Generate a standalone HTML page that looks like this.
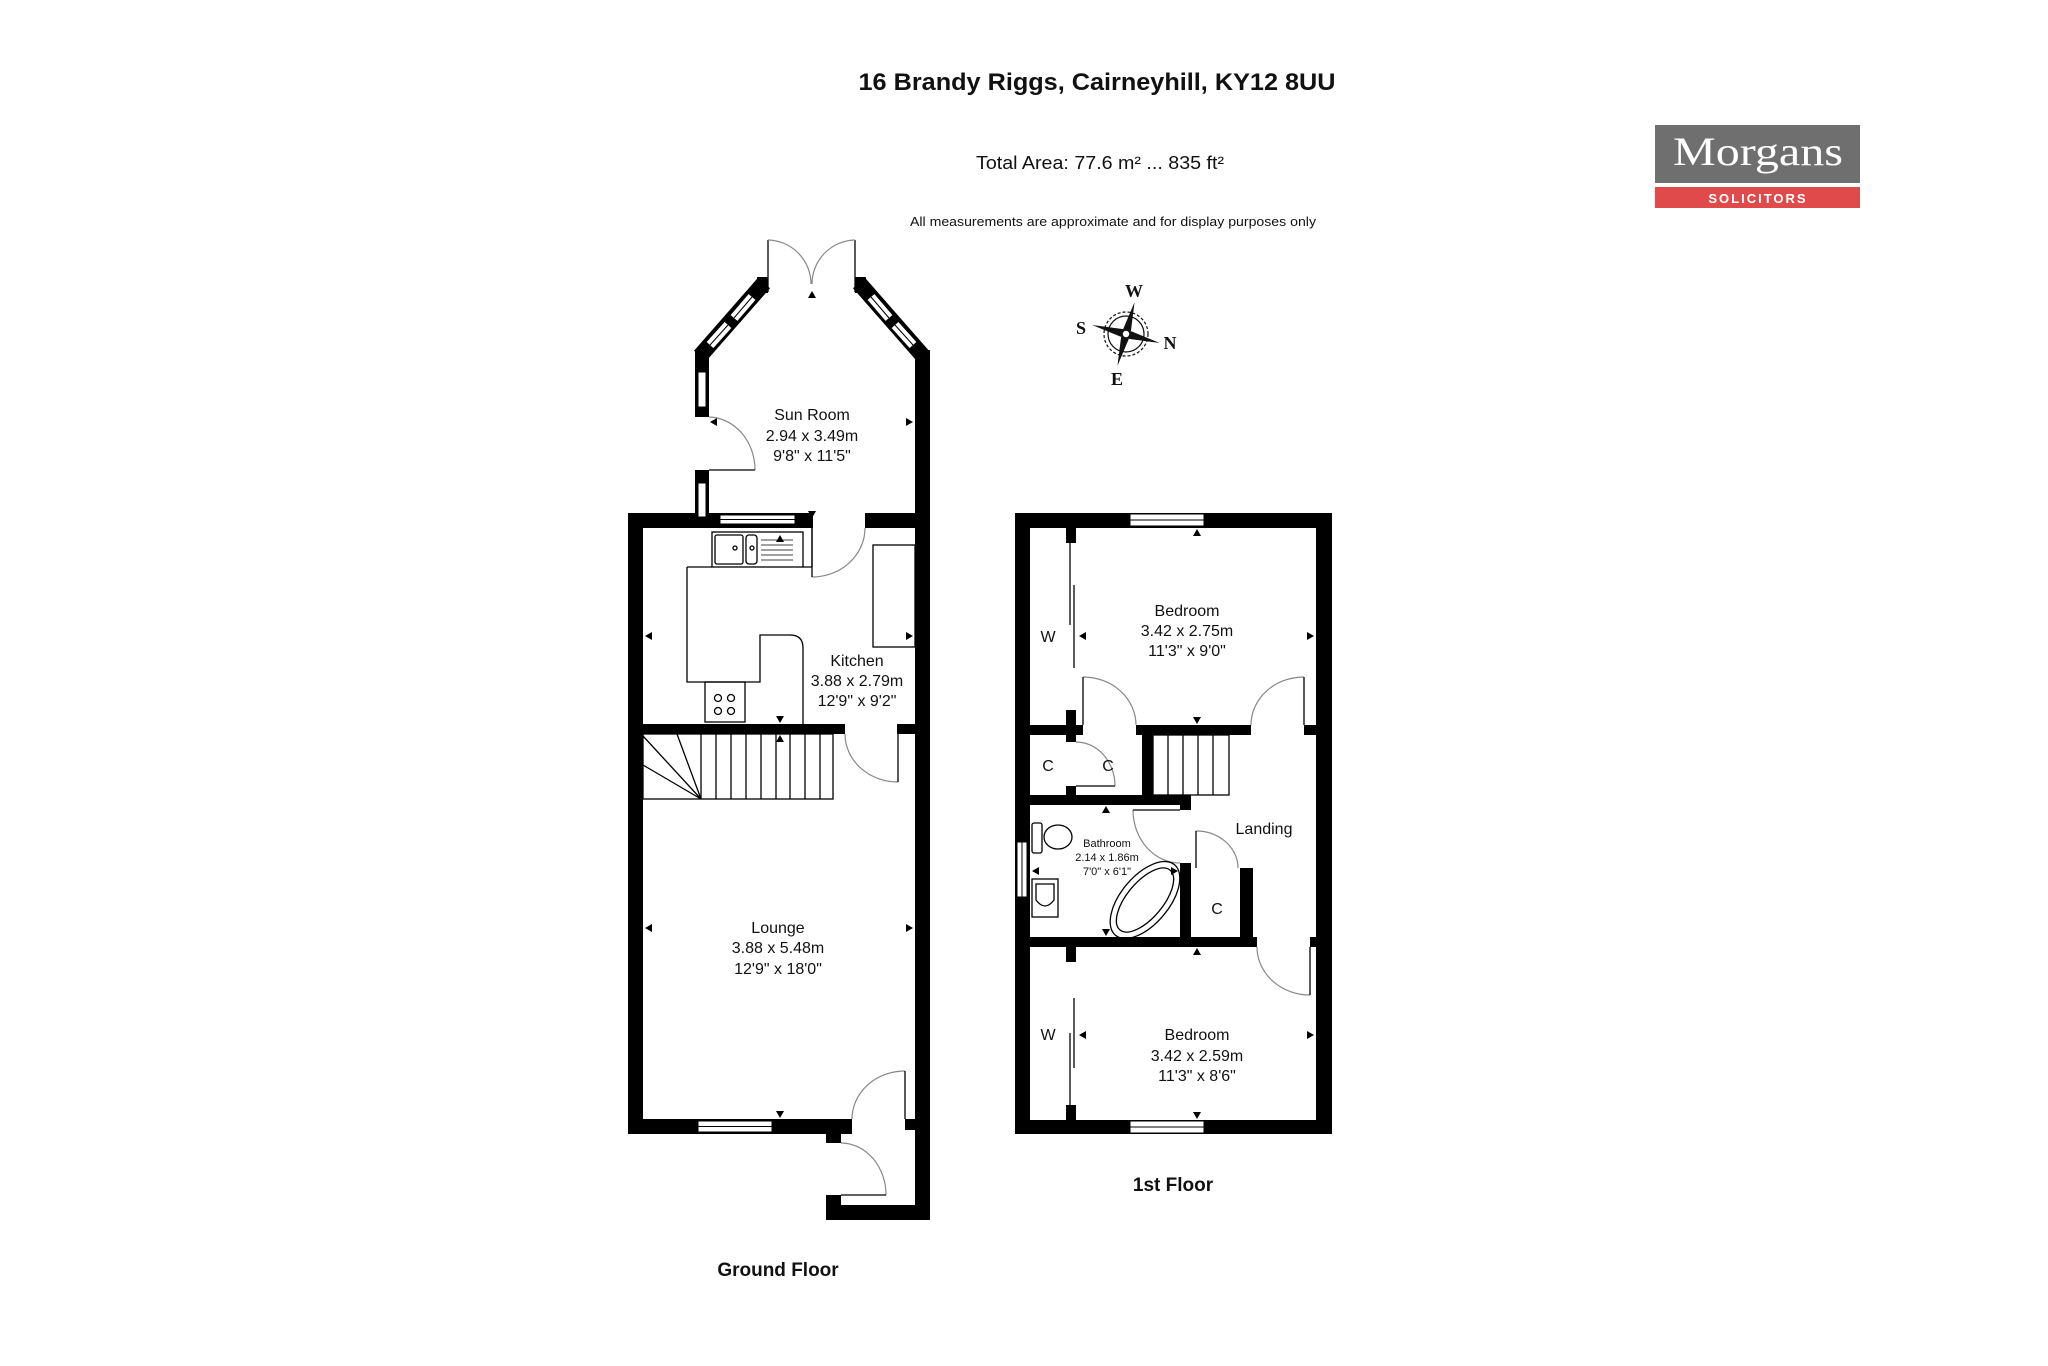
<!DOCTYPE html>
<html><head><meta charset="utf-8"><style>
html,body{margin:0;padding:0;background:#fff;}
svg{display:block;}
text{font-family:"Liberation Sans",Arial,sans-serif;fill:#111;}
</style></head><body>
<svg width="2048" height="1366" viewBox="0 0 2048 1366" xmlns="http://www.w3.org/2000/svg">
<rect width="2048" height="1366" fill="#fff"/>
<!-- Header -->
<text x="1097" y="90" font-size="24" font-weight="bold" text-anchor="middle" textLength="477" lengthAdjust="spacingAndGlyphs">16 Brandy Riggs, Cairneyhill, KY12 8UU</text>
<text x="1100" y="169" font-size="18" text-anchor="middle" textLength="248" lengthAdjust="spacingAndGlyphs">Total Area: 77.6 m² ... 835 ft²</text>
<text x="1113" y="226" font-size="13" text-anchor="middle" textLength="406" lengthAdjust="spacingAndGlyphs">All measurements are approximate and for display purposes only</text>
<!-- Logo -->
<rect x="1655" y="125" width="205" height="58" fill="#6f6f70"/>
<rect x="1655" y="187" width="205" height="21" fill="#e04a4b"/>
<text x="1758" y="165" font-size="40" text-anchor="middle" style="font-family:'Liberation Serif',serif;fill:#fff" textLength="170" lengthAdjust="spacingAndGlyphs">Morgans</text>
<text x="1758" y="203" font-size="13" font-weight="bold" text-anchor="middle" style="fill:#fff" letter-spacing="2">SOLICITORS</text>
<!-- Compass -->
<g transform="translate(1126,334)">
<circle r="22" fill="none" stroke="#111" stroke-width="1.2" stroke-dasharray="3,2"/>
<circle r="18" fill="none" stroke="#111" stroke-width="1.2"/>
<g transform="rotate(15)" fill="#111">
<polygon points="0,-33 4,-4 0,0 -4,-4"/><polygon points="0,33 4,4 0,0 -4,4"/>
<polygon points="-35,0 -4,-4 0,0 -4,4"/><polygon points="35,0 4,-4 0,0 4,4"/>
</g>
<circle r="4" fill="#fff" stroke="#111" stroke-width="1.5"/>
</g>
<g font-weight="bold" font-size="18" text-anchor="middle">
<text x="1134" y="297" style="font-family:'Liberation Serif',serif">W</text>
<text x="1081" y="334" style="font-family:'Liberation Serif',serif">S</text>
<text x="1170" y="349" style="font-family:'Liberation Serif',serif">N</text>
<text x="1117" y="385" style="font-family:'Liberation Serif',serif">E</text>
</g>

<!-- ================= GROUND FLOOR ================= -->
<g fill="#000">
<line x1="764" y1="283" x2="700" y2="356" stroke="#000" stroke-width="16"/>
<line x1="859" y1="283" x2="923" y2="356" stroke="#000" stroke-width="16"/>
<rect x="757" y="277" width="11" height="16"/>
<rect x="855" y="277" width="11" height="16"/>
<rect x="695" y="350" width="14" height="67"/>
<rect x="695" y="470" width="14" height="58"/>
<rect x="915" y="350" width="15" height="870"/>
<rect x="628" y="513" width="185" height="15"/>
<rect x="865" y="513" width="50" height="15"/>
<rect x="628" y="513" width="15" height="621"/>
<rect x="643" y="724" width="202" height="10"/>
<rect x="897" y="724" width="18" height="10"/>
<rect x="628" y="1119" width="224" height="15"/>
<rect x="905" y="1119" width="10" height="11"/>
<rect x="826" y="1134" width="15" height="9"/>
<rect x="826" y="1195" width="15" height="25"/>
<rect x="826" y="1205" width="104" height="15"/>
</g>
<g stroke-linecap="butt">
<line x1="752" y1="297" x2="734" y2="318" stroke="#fff" stroke-width="9"/>
<line x1="728" y1="325" x2="710" y2="345" stroke="#fff" stroke-width="9"/>
<line x1="752" y1="297" x2="734" y2="318" stroke="#000" stroke-width="1"/>
<line x1="728" y1="325" x2="710" y2="345" stroke="#000" stroke-width="1"/>
<line x1="871" y1="297" x2="889" y2="318" stroke="#fff" stroke-width="9"/>
<line x1="895" y1="325" x2="913" y2="345" stroke="#fff" stroke-width="9"/>
<line x1="871" y1="297" x2="889" y2="318" stroke="#000" stroke-width="1"/>
<line x1="895" y1="325" x2="913" y2="345" stroke="#000" stroke-width="1"/>
</g>
<rect x="698" y="372" width="8" height="35" fill="#fff" stroke="#000" stroke-width="1"/>
<rect x="698" y="483" width="8" height="34" fill="#fff" stroke="#000" stroke-width="1"/>
<rect x="720" y="515" width="75" height="9" fill="#fff" stroke="#000" stroke-width="1"/>
<line x1="720" y1="519.5" x2="795" y2="519.5" stroke="#000" stroke-width="1"/>
<rect x="698" y="1121" width="74" height="11" fill="#fff" stroke="#000" stroke-width="1"/>
<line x1="698" y1="1126.5" x2="772" y2="1126.5" stroke="#000" stroke-width="1"/>

<g fill="none" stroke="#000" stroke-width="1.3">
<line x1="768" y1="240" x2="768" y2="292"/><line x1="855" y1="240" x2="855" y2="292"/>
</g>
<g fill="none" stroke="#888" stroke-width="1.2">
<path d="M768,240 A44,44 0 0 1 811,284"/>
<path d="M855,240 A44,44 0 0 0 812,284"/>
<path d="M709,417 A47,53 0 0 1 755,470"/>
<path d="M865,528 A53,49 0 0 1 812,577"/>
<path d="M845,734 A53,48 0 0 0 898,782"/>
<path d="M905,1071 A53,48 0 0 0 852,1119"/>
<path d="M841,1143 A45,52 0 0 1 886,1195"/>
</g>
<g fill="none" stroke="#000" stroke-width="1.3">
<line x1="709" y1="470" x2="755" y2="470"/>
<line x1="812" y1="528" x2="812" y2="577"/>
<line x1="898" y1="734" x2="898" y2="782"/>
<line x1="905" y1="1071" x2="905" y2="1119"/>
<line x1="841" y1="1195" x2="886" y2="1195"/>
<rect x="712" y="532" width="91" height="35"/>
<rect x="715" y="535" width="28" height="29" rx="2"/>
<rect x="746" y="535" width="11" height="29" rx="3"/>
<circle cx="735" cy="548" r="2"/><circle cx="752" cy="548" r="2"/>
<line x1="761" y1="540" x2="793" y2="540" stroke-width="0.8"/>
<line x1="761" y1="545" x2="793" y2="545" stroke-width="0.8"/>
<line x1="761" y1="550" x2="793" y2="550" stroke-width="0.8"/>
<line x1="761" y1="555" x2="793" y2="555" stroke-width="0.8"/>
<line x1="761" y1="560" x2="793" y2="560" stroke-width="0.8"/>
<path d="M687,567 L712,567 M803,567 L812,567 M812,528 L812,567 M687,567 L687,682 L760,682 L760,635 L790,635 Q803,635 803,648 L803,724"/>
<rect x="705" y="682" width="40" height="40"/>
<circle cx="718" cy="698" r="3.5"/><circle cx="731" cy="698" r="3.5"/>
<circle cx="718" cy="711" r="3.5"/><circle cx="731" cy="711" r="3.5"/>
<rect x="873" y="545" width="42" height="102"/>
<rect x="643" y="734" width="190" height="65"/>
<line x1="701" y1="799" x2="643" y2="736"/>
<line x1="701" y1="799" x2="677" y2="734"/>
<line x1="701" y1="799" x2="643" y2="765"/>
<line x1="701" y1="734" x2="701" y2="799"/>
<line x1="716" y1="734" x2="716" y2="799"/>
<line x1="731" y1="734" x2="731" y2="799"/>
<line x1="746" y1="734" x2="746" y2="799"/>
<line x1="761" y1="734" x2="761" y2="799"/>
<line x1="776" y1="734" x2="776" y2="799"/>
<line x1="790" y1="734" x2="790" y2="799"/>
<line x1="805" y1="734" x2="805" y2="799"/>
<line x1="820" y1="734" x2="820" y2="799"/>
</g>
<g fill="#000">
<polygon points="812,291 808,298 816,298"/>
<polygon points="812,518 808,511 816,511"/>
<polygon points="710,422 717,418 717,426"/>
<polygon points="913,422 906,418 906,426"/>
<polygon points="780,535 776,542 784,542"/>
<polygon points="645,636 652,632 652,640"/>
<polygon points="913,636 906,632 906,640"/>
<polygon points="780,723 776,716 784,716"/>
<polygon points="780,735 776,742 784,742"/>
<polygon points="645,928 652,924 652,932"/>
<polygon points="913,928 906,924 906,932"/>
<polygon points="780,1118 776,1111 784,1111"/>
</g>
<g font-size="16" text-anchor="middle">
<text x="812" y="420">Sun Room</text><text x="812" y="441">2.94 x 3.49m</text><text x="812" y="461">9'8" x 11'5"</text>
<text x="857" y="666">Kitchen</text><text x="857" y="686">3.88 x 2.79m</text><text x="857" y="706">12'9" x 9'2"</text>
<text x="778" y="933">Lounge</text><text x="778" y="953">3.88 x 5.48m</text><text x="778" y="974">12'9" x 18'0"</text>
</g>
<text x="778" y="1276" font-size="19" font-weight="bold" text-anchor="middle">Ground Floor</text>

<!-- ================= FIRST FLOOR ================= -->
<g fill="#000">
<rect x="1015" y="513" width="317" height="15"/>
<rect x="1015" y="1120" width="317" height="14"/>
<rect x="1015" y="513" width="15" height="621"/>
<rect x="1316" y="513" width="16" height="621"/>
<rect x="1030" y="725" width="53" height="10"/>
<rect x="1136" y="725" width="115" height="10"/>
<rect x="1304" y="725" width="12" height="10"/>
<rect x="1066" y="528" width="10" height="15"/>
<rect x="1066" y="710" width="10" height="32"/>
<rect x="1066" y="786" width="10" height="12"/>
<rect x="1142" y="735" width="11" height="70"/>
<rect x="1030" y="795" width="161" height="10"/>
<rect x="1180" y="800" width="11" height="10"/>
<rect x="1180" y="863" width="11" height="76"/>
<rect x="1240" y="868" width="13" height="71"/>
<rect x="1030" y="937" width="227" height="10"/>
<rect x="1310" y="937" width="6" height="10"/>
<rect x="1066" y="947" width="10" height="15"/>
<rect x="1066" y="1105" width="10" height="15"/>
</g>
<rect x="1130" y="514" width="74" height="12" fill="#fff" stroke="#000" stroke-width="1"/>
<line x1="1130" y1="520" x2="1204" y2="520" stroke="#000" stroke-width="1"/>
<rect x="1130" y="1121" width="74" height="12" fill="#fff" stroke="#000" stroke-width="1"/>
<line x1="1130" y1="1127" x2="1204" y2="1127" stroke="#000" stroke-width="1"/>
<rect x="1017" y="842" width="10" height="55" fill="#fff" stroke="#000" stroke-width="1"/>
<line x1="1022" y1="842" x2="1022" y2="897" stroke="#000" stroke-width="1"/>
<g fill="none" stroke="#888" stroke-width="1.2">
<path d="M1083,677 A53,48 0 0 1 1136,725"/>
<path d="M1076,742 A39,44 0 0 1 1115,786"/>
<path d="M1304,677 A53,48 0 0 0 1251,725"/>
<path d="M1133,810 A47,53 0 0 0 1180,863"/>
<path d="M1196,831 A42,37 0 0 1 1238,868"/>
<path d="M1310,995 A53,48 0 0 1 1257,947"/>
</g>
<g fill="none" stroke="#000" stroke-width="1.3">
<line x1="1070" y1="543" x2="1070" y2="625"/>
<line x1="1074" y1="585" x2="1074" y2="668"/>
<line x1="1083" y1="677" x2="1083" y2="725"/>
<line x1="1076" y1="786" x2="1115" y2="786"/>
<line x1="1304" y1="677" x2="1304" y2="725"/>
<line x1="1196" y1="831" x2="1196" y2="868"/>
<line x1="1310" y1="947" x2="1310" y2="995"/>
<line x1="1070" y1="1033" x2="1070" y2="1105"/>
<line x1="1074" y1="998" x2="1074" y2="1068"/>
<rect x="1153" y="735" width="76" height="60"/>
<line x1="1168" y1="735" x2="1168" y2="795"/>
<line x1="1183" y1="735" x2="1183" y2="795"/>
<line x1="1198" y1="735" x2="1198" y2="795"/>
<line x1="1213" y1="735" x2="1213" y2="795"/>
<line x1="1133" y1="810" x2="1180" y2="810"/>
<rect x="1032" y="823" width="10" height="30" rx="2"/>
<ellipse cx="1058" cy="837" rx="14" ry="12"/>
<rect x="1032" y="879" width="26" height="38"/>
<path d="M1036,884 L1054,884 L1054,900 Q1045,912 1036,900 Z"/>
<ellipse cx="1145" cy="900" rx="46" ry="24" transform="rotate(-50 1145 900)"/>
<ellipse cx="1145" cy="900" rx="39" ry="18" transform="rotate(-50 1145 900)"/>
</g>
<g fill="#000">
<polygon points="1197,529 1193,536 1201,536"/>
<polygon points="1197,724 1193,717 1201,717"/>
<polygon points="1079,636 1086,632 1086,640"/>
<polygon points="1314,636 1307,632 1307,640"/>
<polygon points="1106,806 1102,813 1110,813"/>
<polygon points="1032,871 1039,867 1039,875"/>
<polygon points="1178,871 1171,867 1171,875"/>
<polygon points="1106,936 1102,929 1110,929"/>
<polygon points="1197,948 1193,955 1201,955"/>
<polygon points="1079,1035 1086,1031 1086,1039"/>
<polygon points="1314,1035 1307,1031 1307,1039"/>
<polygon points="1197,1119 1193,1112 1201,1112"/>
</g>
<g font-size="16" text-anchor="middle">
<text x="1187" y="616">Bedroom</text><text x="1187" y="636">3.42 x 2.75m</text><text x="1187" y="656">11'3" x 9'0"</text>
<text x="1197" y="1040">Bedroom</text><text x="1197" y="1061">3.42 x 2.59m</text><text x="1197" y="1081">11'3" x 8'6"</text>
<text x="1264" y="834">Landing</text>
<text x="1048" y="642">W</text><text x="1048" y="1040">W</text>
<text x="1048" y="771">C</text><text x="1108" y="771">C</text><text x="1217" y="914">C</text>
</g>
<g font-size="11" text-anchor="middle">
<text x="1107" y="847">Bathroom</text><text x="1107" y="861">2.14 x 1.86m</text><text x="1107" y="875">7'0" x 6'1"</text>
</g>
<text x="1173" y="1191" font-size="19" font-weight="bold" text-anchor="middle">1st Floor</text>
</svg>
</body></html>
